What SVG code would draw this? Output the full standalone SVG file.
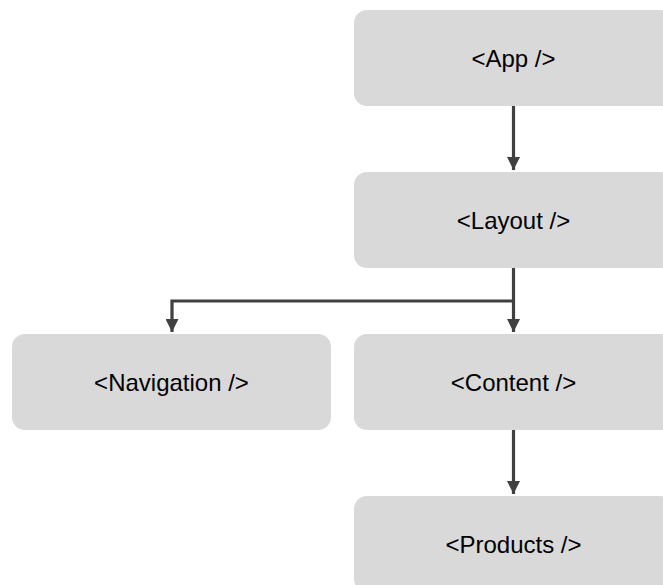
<svg xmlns="http://www.w3.org/2000/svg" width="663" height="585" viewBox="0 0 663 585">
<style>
.box{fill:#d9d9d9}
.lbl{font-family:"Liberation Sans",Arial,sans-serif;font-size:24px;fill:#000;text-anchor:middle}
.conn{stroke:#404040;stroke-width:3.2;fill:none}
</style>
<defs>
<marker id="ah" viewBox="0 0 12 12" refX="12" refY="6" markerWidth="13" markerHeight="13" markerUnits="userSpaceOnUse" orient="auto">
<path d="M0,0 L12,6 L0,12 z" fill="#404040"/>
</marker>
</defs>
<rect width="663" height="585" fill="#fff"/>
<g id="app"><rect class="box" x="354" y="10" width="319" height="96" rx="13"/><text class="lbl" x="513.5" y="67">&lt;App /&gt;</text></g>
<g id="layout"><rect class="box" x="354" y="172" width="319" height="96" rx="13"/><text class="lbl" x="513.5" y="229">&lt;Layout /&gt;</text></g>
<g id="navigation"><rect class="box" x="12" y="334" width="319" height="96" rx="13"/><text class="lbl" x="171.5" y="391">&lt;Navigation /&gt;</text></g>
<g id="content"><rect class="box" x="354" y="334" width="319" height="96" rx="13"/><text class="lbl" x="513.5" y="391">&lt;Content /&gt;</text></g>
<g id="products"><rect class="box" x="354" y="496" width="319" height="96" rx="13"/><text class="lbl" x="513.5" y="553">&lt;Products /&gt;</text></g>
<g id="connectors">
<path class="conn" d="M513.5,106 V170" marker-end="url(#ah)"/>
<path class="conn" d="M513.5,268 V332" marker-end="url(#ah)"/>
<path class="conn" d="M513.5,301 H172 V332" marker-end="url(#ah)"/>
<path class="conn" d="M513.5,430 V494" marker-end="url(#ah)"/>
</g>
</svg>
